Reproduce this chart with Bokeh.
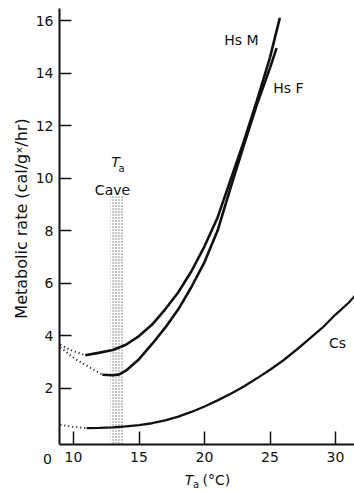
import math
from bokeh.plotting import figure
from bokeh.models import Range1d, FixedTicker, Label
from bokeh.embed import file_html
from bokeh.resources import INLINE

# ---- data ----
x_ticks = [10, 15, 20, 25, 30]
y_ticks = [2, 4, 6, 8, 10, 12, 14, 16]

hsm_t = [10.9, 12, 13, 14, 15, 16, 17, 18, 19, 20, 21, 22, 23, 24, 25, 25.75]
hsm_v = [3.25, 3.35, 3.45, 3.65, 3.98, 4.42, 5.0, 5.65, 6.45, 7.4, 8.5, 9.95, 11.4, 12.95, 14.6, 16.1]
hsm_dot_t = [9.0, 9.9, 10.9]
hsm_dot_v = [3.65, 3.42, 3.25]

hsf_t = [12.2, 13, 13.5, 14, 15, 16, 17, 18, 19, 20, 21, 22, 23, 24, 25, 25.5]
hsf_v = [2.51, 2.49, 2.52, 2.66, 3.1, 3.68, 4.3, 5.0, 5.85, 6.8, 8.0, 9.65, 11.25, 12.8, 14.2, 14.95]
hsf_dot_t = [9.0, 10.1, 11.2, 12.2]
hsf_dot_v = [3.55, 3.12, 2.8, 2.51]

cs_t = [11, 12, 13, 14, 15, 16, 17, 18, 19, 20, 21, 22, 23, 24, 25, 26, 27, 28, 29, 30, 31, 31.45]
cs_v = [0.47, 0.48, 0.5, 0.54, 0.59, 0.66, 0.77, 0.91, 1.09, 1.3, 1.53, 1.78, 2.06, 2.37, 2.7, 3.05, 3.45, 3.87, 4.3, 4.8, 5.25, 5.5]
cs_dot_t = [9.0, 10.0, 11.0]
cs_dot_v = [0.6, 0.52, 0.47]

cave_ta = [12.82, 13.82]
cave_top = 9.33

# axis extents (data units)
x_axis_span = (8.93, 31.45)
y_axis_span = (-0.15, 16.46)

FONT = "DejaVu Sans"
INK = "#111111"

W, H = 354, 493
AX_PX, AY_PX = 59, 444          # pixel position of the axes corner
XS, YS = 13.1, 26.25            # pixels per data unit
X0, Y0 = x_axis_span[0], y_axis_span[0]


def tx(px):
    return X0 + (px - AX_PX) / XS


def vy(py):
    return Y0 + (AY_PX - py) / YS


p = figure(width=W, height=H, output_backend="svg", toolbar_location=None,
           x_range=Range1d(tx(0), tx(W)), y_range=Range1d(vy(H), vy(0)),
           min_border_left=0, min_border_right=0, min_border_top=0, min_border_bottom=0)
p.grid.visible = False
p.outline_line_color = None
p.background_fill_color = "white"

p.xaxis.ticker = FixedTicker(ticks=x_ticks)
p.yaxis.ticker = FixedTicker(ticks=y_ticks)
p.xaxis.fixed_location = Y0
p.yaxis.fixed_location = X0
p.xaxis.bounds = x_axis_span
p.yaxis.bounds = y_axis_span
for ax in (p.xaxis[0], p.yaxis[0]):
    ax.major_tick_out = 0
    ax.minor_tick_in = 0
    ax.minor_tick_out = 0
    ax.axis_line_width = 2
    ax.axis_line_color = INK
    ax.major_tick_line_width = 1.5
    ax.major_tick_line_color = INK
    ax.major_label_text_font = FONT
    ax.major_label_text_font_size = "14px"
    ax.major_label_text_color = INK
p.xaxis.major_tick_in = 13
p.yaxis.major_tick_in = 12
p.xaxis.major_label_standoff = 7
p.yaxis.major_label_standoff = 6

# stippled band for cave temperature
p.quad(left=[cave_ta[0]], right=[cave_ta[1]], bottom=[Y0], top=[cave_top],
       fill_color=None, line_color=None, hatch_pattern="dot", hatch_scale=3,
       hatch_weight=0.9, hatch_color="#777777")

# curves
p.line(hsm_t, hsm_v, line_color=INK, line_width=2.6)
p.line(hsf_t, hsf_v, line_color=INK, line_width=2.6)
p.line(cs_t, cs_v, line_color=INK, line_width=2.3)
for t, v in ((hsm_dot_t, hsm_dot_v), (hsf_dot_t, hsf_dot_v), (cs_dot_t, cs_dot_v)):
    p.line(t, v, line_color=INK, line_width=2, line_dash="1 3")


def lab(text, px, py, size="14px", style="normal", align="center", angle=0.0):
    p.add_layout(Label(x=tx(px), y=vy(py), text=text, text_font=FONT,
                       text_font_size=size, text_font_style=style,
                       text_align=align, text_baseline="middle",
                       text_color=INK, angle=angle))


lab("Hs M", 241, 39)
lab("Hs F", 288, 87)
lab("Cs", 337, 342)
lab("T", 115, 161, style="italic")
lab("a", 121, 168, size="10px")
lab("Cave", 112, 189, size="14px")
lab("0", 47, 458)
lab("T", 188.5, 479, style="italic")
lab("a", 195.5, 484, size="10px")
lab("(\u00b0C)", 202, 479, align="left")
lab("Metabolic rate (cal/g\u02e3/hr)", 20.5, 218, size="16px", angle=math.pi / 2)

open("out.html", "w").write(file_html(p, INLINE))
